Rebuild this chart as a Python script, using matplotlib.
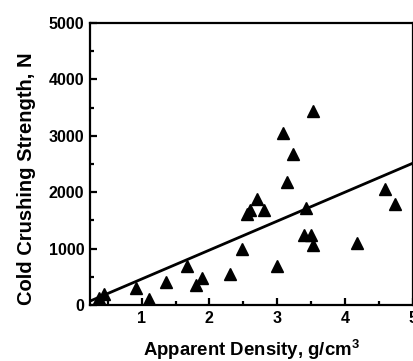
import matplotlib.pyplot as plt
from matplotlib.ticker import MultipleLocator

plt.rcParams['font.family'] = ['Liberation Sans', 'DejaVu Sans']
plt.rcParams['font.weight'] = 'bold'
plt.rcParams['mathtext.fontset'] = 'custom'
plt.rcParams['mathtext.rm'] = 'Liberation Sans'

# measured points (apparent density g/cm3, crushing strength N)
density = [0.37, 0.45, 0.92, 1.11, 1.36, 1.67, 1.80, 1.89, 2.30, 2.48,
           2.56, 2.60, 2.70, 2.81, 2.99, 3.08, 3.15, 3.23, 3.42, 3.39,
           3.50, 3.52, 3.53, 4.17, 4.58, 4.73]
strength = [124, 195, 300, 106, 408, 690, 355, 480, 550, 993,
            1620, 1680, 1880, 1684, 690, 3050, 2180, 2677, 1720, 1241,
            1241, 1064, 3440, 1100, 2057, 1790]

# linear fit line
fit_x = [0.24, 5.0]
fit_y = [70, 2517]

fig = plt.figure(figsize=(4.14, 3.61), dpi=100)
ax = fig.add_axes([0.2174, 0.155, 0.7802, 0.781])

ax.plot(density, strength, linestyle='none', marker='^', color='black', markersize=8)
ax.plot(fit_x, fit_y, color='black', linewidth=2)

ax.set_xlim(0.24, 5.0)
ax.set_ylim(0, 5000)
ax.xaxis.set_major_locator(MultipleLocator(1))
ax.xaxis.set_minor_locator(MultipleLocator(0.5))
ax.yaxis.set_major_locator(MultipleLocator(1000))
ax.yaxis.set_minor_locator(MultipleLocator(500))

for s in ax.spines.values():
    s.set_linewidth(1.6)
ax.tick_params(which='both', direction='in', width=1.6, labelsize=11.5)
ax.tick_params(which='major', length=5, pad=4)
ax.tick_params(which='minor', length=3)
for lab in ax.get_xticklabels() + ax.get_yticklabels():
    lab.set_fontweight('bold')

ax.set_xlabel('Apparent Density, g/cm$^\\mathregular{3}$', fontsize=13.4, fontweight='bold', labelpad=8)
ax.set_ylabel('Cold Crushing Strength, N', fontsize=14.5, fontweight='bold')
ax.yaxis.set_label_coords(-0.167, 0.449)

fig.savefig('out.png', dpi=100)
